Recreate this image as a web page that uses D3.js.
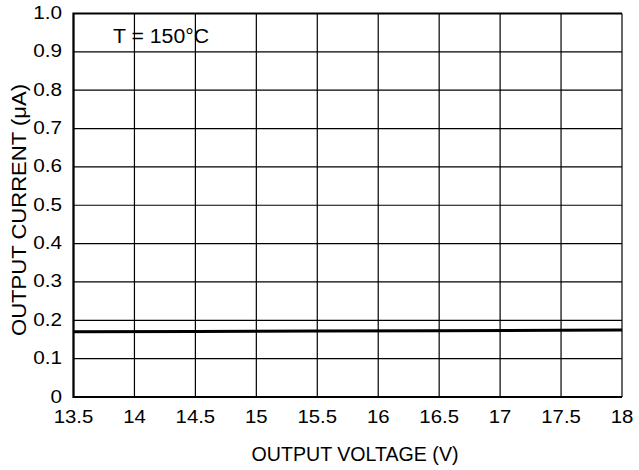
<!DOCTYPE html>
<html>
<head>
<meta charset="utf-8">
<script src="https://cdn.jsdelivr.net/npm/d3@7"></script>
<style>
  body { margin: 0; background: #fff; }
  text { font-family: "Liberation Sans", Arial, sans-serif; fill: #000; }
</style>
</head>
<body>
<script>
// output current vs output voltage at 150 C
var voltage = [13.5, 14.5, 15.5, 16.5, 17.5, 18];
var current = [0.170, 0.171, 0.172, 0.173, 0.174, 0.175];
var xTicks = [13.5, 14, 14.5, 15, 15.5, 16, 16.5, 17, 17.5, 18];
var yTicks = [0, 0.1, 0.2, 0.3, 0.4, 0.5, 0.6, 0.7, 0.8, 0.9, 1.0];
var yTickLabels = ["0", "0.1", "0.2", "0.3", "0.4", "0.5", "0.6", "0.7", "0.8", "0.9", "1.0"];

var margin = {left: 73.5, top: 13.5, right: 17, bottom: 73};
var width = 639, height = 470;

var svg = d3.select("body").append("svg")
    .attr("width", width)
    .attr("height", height);

var x = d3.scaleLinear().domain([13.5, 18]).range([margin.left, width - margin.right]);
var y = d3.scaleLinear().domain([0, 1]).range([height - margin.bottom, margin.top]);

// grid
svg.append("g").selectAll("line").data(xTicks).enter().append("line")
    .attr("x1", d => x(d)).attr("x2", d => x(d))
    .attr("y1", y(0)).attr("y2", y(1))
    .attr("stroke", "#000").attr("stroke-width", 1.2);

svg.append("g").selectAll("line").data(yTicks).enter().append("line")
    .attr("x1", x(13.5)).attr("x2", x(18))
    .attr("y1", d => y(d)).attr("y2", d => y(d))
    .attr("stroke", "#000").attr("stroke-width", 1.2);

// heavier frame on left, bottom, top
svg.append("path")
    .attr("d", "M" + x(18) + "," + y(1) + "H" + x(13.5) + "V" + y(0) + "H" + x(18))
    .attr("fill", "none").attr("stroke", "#000").attr("stroke-width", 2.2);

// tick labels (slightly wide face, like the original)
svg.append("g").selectAll("text").data(xTicks).enter().append("text")
    .attr("transform", d => "translate(" + x(d) + ",423) scale(1.1,1)")
    .attr("text-anchor", "middle")
    .attr("font-size", 18.5)
    .text(d => d);

svg.append("g").selectAll("text").data(yTicks).enter().append("text")
    .attr("transform", d => "translate(62," + (y(d) + 5.5) + ") scale(1.12,1)")
    .attr("text-anchor", "end")
    .attr("font-size", 18.5)
    .text((d, i) => yTickLabels[i]);

// data line
var line = d3.line().x((d, i) => x(voltage[i])).y(d => y(d));
svg.append("path")
    .attr("d", line(current))
    .attr("fill", "none").attr("stroke", "#000").attr("stroke-width", 3);

// titles
svg.append("text")
    .attr("x", 355).attr("y", 461)
    .attr("text-anchor", "middle").attr("font-size", 20)
    .attr("textLength", 207).attr("lengthAdjust", "spacingAndGlyphs")
    .text("OUTPUT VOLTAGE (V)");

svg.append("text")
    .attr("transform", "translate(26,210) rotate(-90)")
    .attr("text-anchor", "middle").attr("font-size", 20)
    .attr("textLength", 252).attr("lengthAdjust", "spacingAndGlyphs")
    .text("OUTPUT CURRENT (\u03bcA)");

svg.append("text")
    .attr("x", 113).attr("y", 43)
    .attr("font-size", 19.5)
    .attr("textLength", 96).attr("lengthAdjust", "spacingAndGlyphs")
    .text("T = 150\u00b0C");
</script>
</body>
</html>
